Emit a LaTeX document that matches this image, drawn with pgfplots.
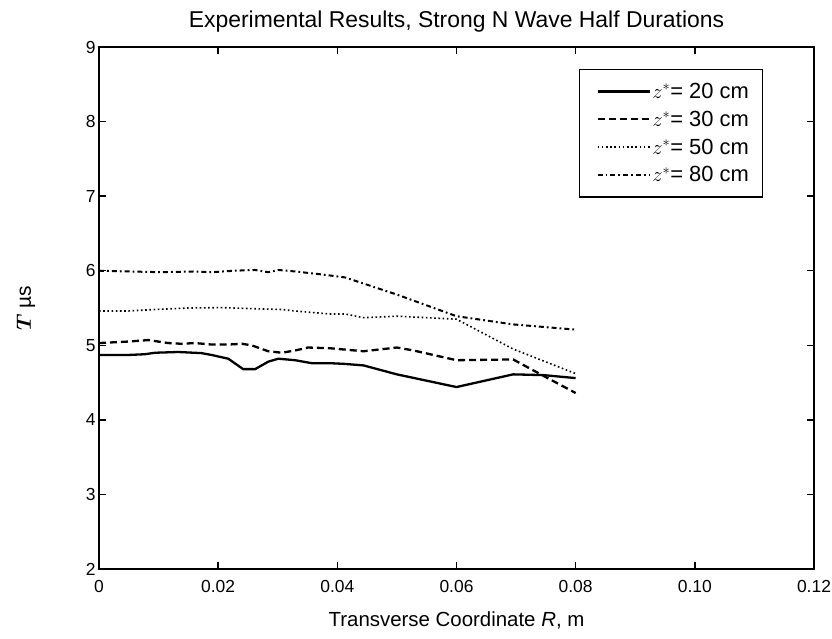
\documentclass[border=0pt]{standalone}
\usepackage{pgfplots}
\pgfplotsset{compat=1.18}
\usepackage{fontspec}
\usepackage{bm}
\setmainfont{Liberation Sans}
\setsansfont{Liberation Sans}

\begin{document}
\begin{tikzpicture}[x=1bp,y=1bp]
	\begin{axis}[
		at={(0,0)}, anchor=south west,
		scale only axis,
		width=715bp, height=522bp,
		xmin=0, xmax=0.12,
		ymin=2, ymax=9,
		xtick={0,0.02,0.04,0.06,0.08,0.10,0.12},
		xticklabels={0,0.02,0.04,0.06,0.08,0.10,0.12},
		ytick={2,3,4,5,6,7,8,9},
		tick align=inside,
		major tick length=7bp,
		axis line style={line width=2bp},
		tick style={line width=1.4bp, black},
		ticklabel style={font=\fontsize{17.5}{20}\selectfont},
		xticklabel style={yshift=-8bp},
		/pgf/number format/assume math mode=true,
		title={Experimental Results, Strong N Wave Half Durations},
		title style={font=\fontsize{23}{27}\selectfont, yshift=5bp},
		xlabel={Transverse Coordinate \textit{R}, m},
		xlabel style={font=\fontsize{20.5}{24}\selectfont, at={(axis description cs:0.5,-0.098)}, anchor=center},
		ylabel={$\bm{T}$ µs},
		ylabel style={font=\fontsize{21}{24}\selectfont, at={(axis description cs:-0.102,0.5)}, anchor=center},
		legend style={
			at={(rel axis cs:0.671,0.958)}, anchor=north west,
			draw=black, line width=1.4bp,
			font=\fontsize{22}{26}\selectfont,
			row sep=8bp, column sep=0bp,
			inner xsep=12bp, inner ysep=12bp,
			nodes={inner sep=1.5bp},
			cells={anchor=west}
		},
		legend image code/.code={\path (0bp,0bp); \draw[#1] (5bp,0bp) -- (57bp,0bp);},
		]

		% z* = 20 cm
		\addplot[black, line width=2.3bp] coordinates {
			(0,4.87) (0.0049,4.87) (0.0077,4.88) (0.0094,4.90) (0.0133,4.91)
			(0.0172,4.895) (0.0189,4.87) (0.0217,4.82) (0.0242,4.68) (0.0262,4.68)
			(0.0284,4.78) (0.0301,4.82) (0.0329,4.80) (0.0357,4.76) (0.0388,4.76)
			(0.0413,4.75) (0.0444,4.73) (0.0500,4.61) (0.0600,4.44) (0.0695,4.61)
			(0.0746,4.60) (0.0800,4.56)
		};
		% z* = 30 cm
		\addplot[black, line width=2.3bp, dash pattern=on 7bp off 4bp] coordinates {
			(0,5.03) (0.0049,5.05) (0.0083,5.07) (0.0116,5.03) (0.0139,5.02)
			(0.0161,5.03) (0.0189,5.01) (0.0217,5.01) (0.0240,5.02) (0.0256,5.00)
			(0.0284,4.92) (0.0307,4.90) (0.0329,4.93) (0.0351,4.97) (0.0388,4.96)
			(0.0444,4.92) (0.0500,4.97) (0.0528,4.93) (0.0600,4.80) (0.0695,4.81)
			(0.0746,4.59) (0.0800,4.36)
		};
		% z* = 50 cm
		\addplot[black, line width=1.6bp, dash pattern=on 1.6bp off 2.6bp] coordinates {
			(0,5.46) (0.0049,5.46) (0.0094,5.48) (0.0150,5.50) (0.0206,5.505)
			(0.0262,5.49) (0.0307,5.48) (0.0329,5.46) (0.0357,5.44) (0.0388,5.42)
			(0.0413,5.42) (0.0444,5.37) (0.0500,5.39) (0.0600,5.35) (0.0695,4.95)
			(0.0800,4.62)
		};
		% z* = 80 cm
		\addplot[black, line width=2bp, dash pattern=on 5bp off 3bp on 1.8bp off 3bp] coordinates {
			(0,6.00) (0.0049,5.99) (0.0105,5.98) (0.0161,5.99) (0.0189,5.98)
			(0.0228,6.00) (0.0262,6.01) (0.0284,5.98) (0.0301,6.01) (0.0329,5.99)
			(0.0374,5.95) (0.0413,5.91) (0.0500,5.68) (0.0600,5.39) (0.0695,5.28)
			(0.0800,5.21)
		};
		\legend{$z^{*}$= 20 cm, $z^{*}$= 30 cm, $z^{*}$= 50 cm, $z^{*}$= 80 cm}
	\end{axis}
	\pgfresetboundingbox
	\path (-99bp,-70bp) rectangle (733bp,569bp);
\end{tikzpicture}
\end{document}
